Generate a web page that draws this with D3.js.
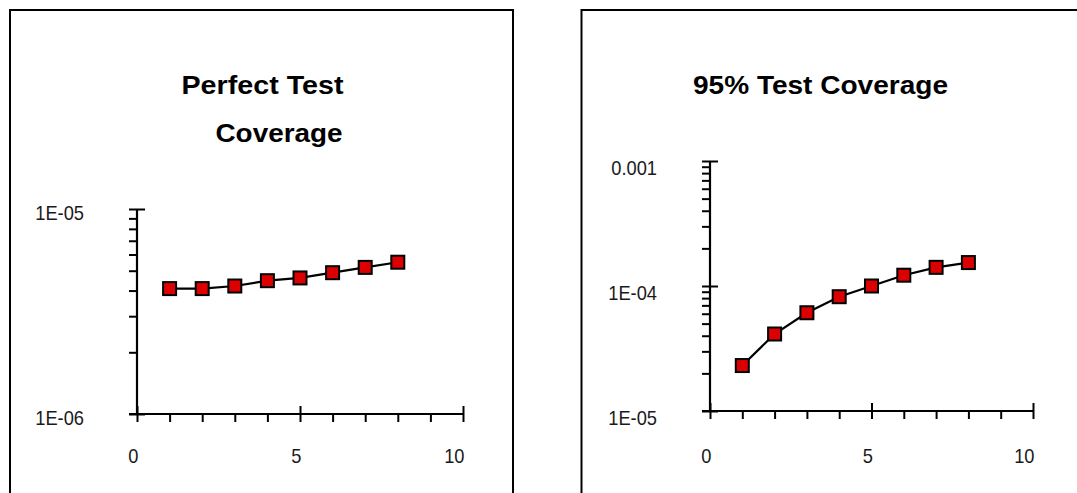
<!DOCTYPE html>
<html>
<head>
<meta charset="utf-8">
<script src="https://cdn.jsdelivr.net/npm/d3@7"></script>
<style>
  html, body { margin: 0; padding: 0; background: #fff; }
  svg { display: block; }
</style>
</head>
<body>
<svg id="chart" width="1077" height="493"></svg>
<script>
// ---- data ----
const xValues = [1, 2, 3, 4, 5, 6, 7, 8];
const perfectValues = [4.09e-6, 4.09e-6, 4.21e-6, 4.47e-6, 4.61e-6, 4.89e-6, 5.19e-6, 5.50e-6];
const coverage95Values = [2.31e-5, 4.13e-5, 6.11e-5, 8.21e-5, 1.0e-4, 1.22e-4, 1.41e-4, 1.54e-4];
const xTickLabels = [0, 5, 10];
const perfectYTicks = [1e-6, 1e-5];
const perfectYTickLabels = ["1E-06", "1E-05"];
const coverageYTicks = [1e-5, 1e-4, 1e-3];
const coverageYTickLabels = ["1E-05", "1E-04", "0.001"];
const perfectTitle = ["Perfect Test", "Coverage"];
const coverageTitle = ["95% Test Coverage"];

const svg = d3.select("#chart");
const SX = 0.87;

function panel(cfg) {
  svg.append("path")
    .attr("d", `M${cfg.bx0},493 V10 H${cfg.bx1} V493`)
    .attr("fill", "none").attr("stroke", "#000").attr("stroke-width", 2);

  cfg.title.forEach((t, i) => {
    svg.append("text")
      .attr("x", cfg.titlePos[i][0]).attr("y", cfg.titlePos[i][1])
      .attr("textLength", cfg.titlePos[i][2]).attr("lengthAdjust", "spacingAndGlyphs")
      .attr("font-family", "Liberation Sans, Arial, sans-serif")
      .attr("font-weight", "bold").attr("font-size", 25.5)
      .attr("fill", "#000").text(t);
  });

  const x = d3.scaleLinear().domain([0, 10]).range(cfg.xRange);
  const y = d3.scaleLog().domain(cfg.yDomain).range(cfg.yRange);

  const g = svg.append("g");
  const lineStyle = sel => sel.attr("stroke", "#000").attr("stroke-width", 2.2).attr("fill", "none");

  const e0 = Math.round(Math.log10(cfg.yDomain[0])), e1 = Math.round(Math.log10(cfg.yDomain[1]));
  const minorVals = d3.range(e0, e1).flatMap(e => d3.range(1, 10).map(m => m * Math.pow(10, e))).concat([cfg.yDomain[1]]);
  const ya = g.append("g").attr("transform", `translate(${cfg.xRange[0]},0)`)
    .call(d3.axisLeft(y).tickSize(8).tickFormat("").tickSizeOuter(0).tickValues(minorVals));
  ya.select(".domain").remove();
  ya.selectAll("line").attr("stroke", "#000").attr("stroke-width", 2);
  const yb = g.append("g").attr("transform", `translate(${cfg.xRange[0]},0)`)
    .call(d3.axisRight(y).tickSize(8).tickFormat("").tickSizeOuter(0).tickValues(cfg.yTicks));
  yb.select(".domain").remove();
  yb.selectAll("line").attr("stroke", "#000").attr("stroke-width", 2);

  const xa = g.append("g").attr("transform", `translate(0,${cfg.yRange[0]})`)
    .call(d3.axisBottom(x).tickSize(8).tickFormat("").tickSizeOuter(0).tickValues(d3.range(0, 11)));
  xa.select(".domain").remove();
  xa.selectAll("line").attr("stroke", "#000").attr("stroke-width", 2);
  const xb = g.append("g").attr("transform", `translate(0,${cfg.yRange[0]})`)
    .call(d3.axisTop(x).tickSize(8).tickFormat("").tickSizeOuter(0).tickValues(xTickLabels));
  xb.select(".domain").remove();
  xb.selectAll("line").attr("stroke", "#000").attr("stroke-width", 2);

  g.append("line").attr("x1", x(0)).attr("x2", x(0))
    .attr("y1", y(cfg.yDomain[1])).attr("y2", y(cfg.yDomain[0])).call(lineStyle);
  g.append("line").attr("x1", x(0) - 8).attr("x2", x(10))
    .attr("y1", y(cfg.yDomain[0])).attr("y2", y(cfg.yDomain[0])).call(lineStyle);

  const labelFont = sel => sel
    .attr("text-anchor", "end")
    .attr("font-family", "Liberation Sans, Arial, sans-serif")
    .attr("font-size", 21).attr("fill", "#1a1a1a");

  cfg.yTicks.forEach((v, i) => {
    svg.append("text")
      .attr("transform", `translate(${x(0) - 53},${y(v) + cfg.yLabelDy}) scale(${SX},1)`)
      .call(labelFont).text(cfg.yLabels[i]);
  });
  xTickLabels.forEach(v => {
    svg.append("text")
      .attr("transform", `translate(${x(v) + 1.5},462.5) scale(${SX},1)`)
      .call(labelFont).text(v);
  });

  const pts = xValues.map((xv, i) => [xv, cfg.values[i]]);
  g.append("path").datum(pts)
    .attr("d", d3.line().x(d => x(d[0])).y(d => y(d[1])))
    .call(lineStyle);
  g.selectAll("rect.m").data(pts).enter().append("rect")
    .attr("x", d => x(d[0]) - 6.5).attr("y", d => y(d[1]) - 6.5)
    .attr("width", 13).attr("height", 13)
    .attr("fill", "#dd0000").attr("stroke", "#000").attr("stroke-width", 2);
}

panel({
  bx0: 10, bx1: 513,
  title: perfectTitle,
  titlePos: [[181.5, 93.5, 162], [215.5, 141.5, 127]],
  xRange: [137, 463],
  yDomain: [1e-6, 1e-5], yRange: [414, 209],
  yTicks: perfectYTicks, yLabels: perfectYTickLabels, yLabelDy: 11,
  values: perfectValues
});

panel({
  bx0: 581.5, bx1: 1090,
  title: coverageTitle,
  titlePos: [[693, 94, 255]],
  xRange: [710, 1033],
  yDomain: [1e-5, 1e-3], yRange: [411, 161],
  yTicks: coverageYTicks, yLabels: coverageYTickLabels, yLabelDy: 13.5,
  values: coverage95Values
});
</script>
</body>
</html>
